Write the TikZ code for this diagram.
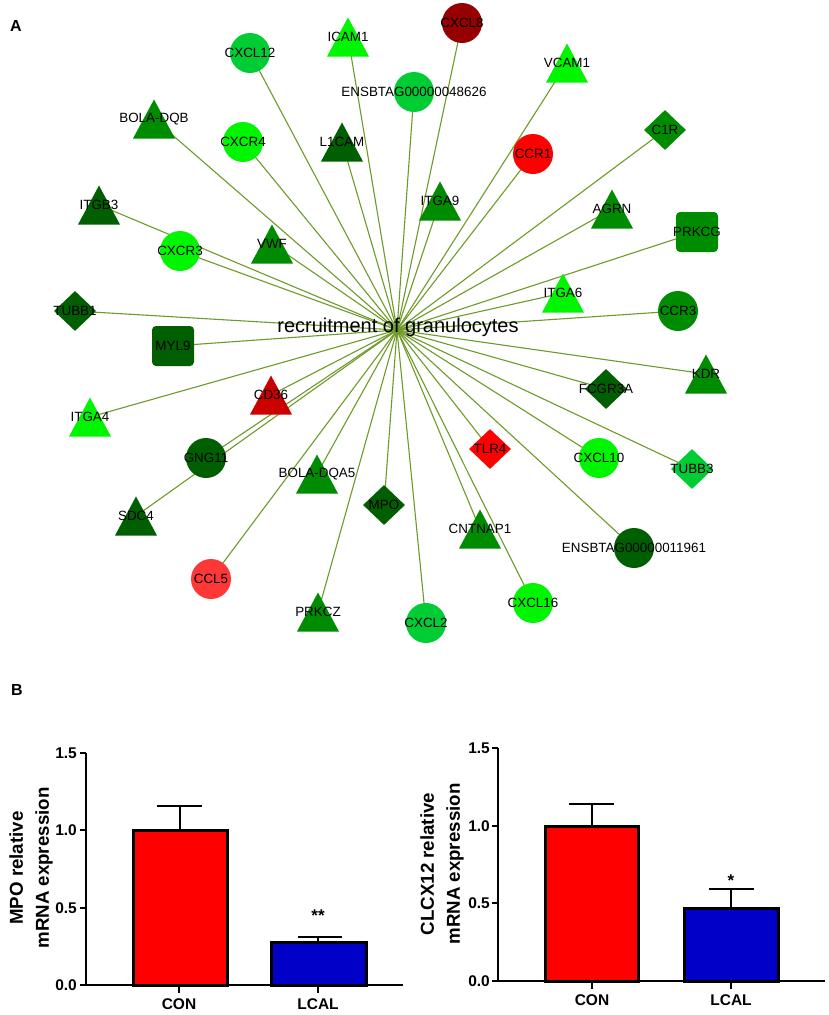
\documentclass[tikz,border=0pt]{standalone}
\usepackage{fontspec}
\setmainfont{Liberation Sans}
\usetikzlibrary{shapes.geometric,backgrounds}
\definecolor{gBright}{RGB}{0,245,0}
\definecolor{gMed}{RGB}{0,204,51}
\definecolor{gMid}{RGB}{0,140,0}
\definecolor{gDark}{RGB}{0,95,0}
\definecolor{rDark}{RGB}{150,0,0}
\definecolor{rRed}{RGB}{255,0,0}
\definecolor{rCD}{RGB}{205,0,0}
\definecolor{rLight}{RGB}{255,55,55}
\definecolor{edgec}{RGB}{110,155,40}
\definecolor{barred}{RGB}{255,0,0}
\definecolor{barblue}{RGB}{0,0,200}
\tikzset{
  lbl/.style={inner sep=0pt, font=\fontsize{13.4}{15}\selectfont, text=black},
  circ/.style={circle, inner sep=0pt, minimum size=40pt},
  dia/.style={diamond, inner sep=0pt, minimum width=42pt, minimum height=40pt},
  sqr/.style={rectangle, rounded corners=4pt, inner sep=0pt, minimum width=42pt, minimum height=40pt},
  edge/.style={draw=edgec, line width=1.1pt},
  ticklab/.style={inner sep=0pt, anchor=east, font=\bfseries\fontsize{15.5}{18}\selectfont},
  xlab/.style={inner sep=0pt, font=\bfseries\fontsize{15.5}{18}\selectfont},
  ylab/.style={inner sep=0pt, rotate=90, align=center, font=\bfseries\fontsize{18.7}{26}\selectfont},
  panel/.style={inner sep=0pt, font=\bfseries\fontsize{16}{18}\selectfont},
  star/.style={inner sep=0pt, font=\bfseries\fontsize{17}{19}\selectfont},
  axis/.style={line width=2.3pt},
  bar/.style={line width=3pt, draw=black},
  errb/.style={line width=2.3pt}
}
\newcommand{\gcirc}[5]{\node[circ,fill=#4] (#1) at (#2,#3) {}; \node[lbl] (#1-l) at (#1.center) {#5};}
\newcommand{\gdia}[5]{\node[dia,fill=#4] (#1) at (#2,#3) {}; \node[lbl] (#1-l) at (#1.center) {#5};}
\newcommand{\gsqr}[5]{\node[sqr,fill=#4] (#1) at (#2,#3) {}; \node[lbl] (#1-l) at (#1.center) {#5};}
\newcommand{\gtri}[5]{\fill[#4] ({#2-21},{#3+19.5}) -- (#2,{#3-19.5}) -- ({#2+21},{#3+19.5}) -- cycle; \node[lbl] (#1) at (#2,#3) {#5};}
\begin{document}
\begin{tikzpicture}[x=1pt,y=-1pt]
\useasboundingbox (0,0) rectangle (829,1015);
\begin{scope}[on background layer]
\fill[white] (0,0) rectangle (829,1015);
\end{scope}

\node[panel] (pA) at (16,26) {A};
\node[panel] (pB) at (17,690) {B};

\coordinate (hub) at (397,330);

% circles
\gcirc{cxcl12}{250}{53}{gMed}{CXCL12}
\gcirc{ensa}{414}{92}{gMed}{ENSBTAG00000048626}
\gcirc{cxcr4}{243}{142}{gBright}{CXCR4}
\gcirc{cxcl8}{462}{23}{rDark}{CXCL8}
\gcirc{ccr1}{533}{154}{rRed}{CCR1}
\gcirc{ccr3}{678}{311}{gMid}{CCR3}
\gcirc{cxcr3}{180}{251}{gBright}{CXCR3}
\gcirc{gng11}{206}{458}{gDark}{GNG11}
\gcirc{ccl5}{211}{579}{rLight}{CCL5}
\gcirc{cxcl2}{426}{623}{gMed}{CXCL2}
\gcirc{cxcl10}{599}{458}{gBright}{CXCL10}
\gcirc{ensb}{634}{548}{gDark}{ENSBTAG00000011961}
\gcirc{cxcl16}{533}{603}{gBright}{CXCL16}

% triangles
\gtri{icam1}{348}{37}{gBright}{ICAM1}
\gtri{boladqb}{154}{119}{gMid}{BOLA-DQB}
\gtri{l1cam}{342}{142}{gDark}{L1CAM}
\gtri{itgb3}{99}{205}{gDark}{ITGB3}
\gtri{vcam1}{567}{63}{gBright}{VCAM1}
\gtri{itga9}{440}{201}{gMid}{ITGA9}
\gtri{agrn}{612}{209}{gMid}{AGRN}
\gtri{itga6}{563}{293}{gBright}{ITGA6}
\gtri{kdr}{706}{374}{gMid}{KDR}
\gtri{vwf}{272}{244}{gMid}{VWF}
\gtri{cd36}{271}{395}{rCD}{CD36}
\gtri{itga4}{90}{417}{gBright}{ITGA4}
\gtri{boladqa}{317}{474}{gMid}{BOLA-DQA5}
\gtri{sdc4}{136}{516}{gDark}{SDC4}
\gtri{prkcz}{318}{612}{gMid}{PRKCZ}
\gtri{cntnap1}{480}{529}{gMid}{CNTNAP1}

% diamonds
\gdia{c1r}{665}{130}{gMid}{C1R}
\gdia{tubb1}{75}{311}{gDark}{TUBB1}
\gdia{fcgr3a}{606}{389}{gDark}{FCGR3A}
\gdia{mpo}{384}{505}{gDark}{MPO}
\gdia{tlr4}{490}{449}{rRed}{TLR4}
\gdia{tubb3}{692}{469}{gMed}{TUBB3}

% rounded squares
\gsqr{prkcg}{697}{232}{gMid}{PRKCG}
\gsqr{myl9}{173}{346}{gDark}{MYL9}

\begin{scope}[on background layer]
\foreach \n in {cxcl12,ensa,cxcr4,cxcl8,ccr1,ccr3,cxcr3,gng11,ccl5,cxcl2,cxcl10,ensb,cxcl16,
  icam1,boladqb,l1cam,itgb3,vcam1,itga9,agrn,itga6,kdr,vwf,cd36,itga4,boladqa,sdc4,prkcz,cntnap1,
  c1r,tubb1,fcgr3a,mpo,tlr4,tubb3,prkcg,myl9}
  \draw[edge] (hub) -- (\n.center);
\end{scope}

\node[inner sep=0pt, font=\fontsize{20}{24}\selectfont] (hubtxt) at (398,327) {recruitment of granulocytes};

% ---------- left bar chart ----------
\fill[barred] (133,985) rectangle (227,830);
\draw[bar] (133,985) rectangle (227,830);
\fill[barblue] (271,985) rectangle (366,942);
\draw[bar] (271,985) rectangle (366,942);
\draw[errb] (180,830) -- (180,806) (157,806) -- (202,806);
\draw[errb] (318,942) -- (318,937) (298,937) -- (342,937);
\draw[axis] (86,753) -- (86,985) -- (403,985);
\foreach \yy in {753,830,908,985} \draw[axis] (80,\yy) -- (86,\yy);
\draw[axis] (179,985) -- (179,993) (318,985) -- (318,993);
\node[ticklab] (l15) at (77,753) {1.5};
\node[ticklab] (l10) at (77,830) {1.0};
\node[ticklab] (l05) at (77,908) {0.5};
\node[ticklab] (l00) at (77,985) {0.0};
\node[xlab] (lcon) at (179,1004) {CON};
\node[xlab] (llcal) at (318,1004) {LCAL};
\node[star] (lstar) at (318,916) {**};
\node[ylab] (lylab) at (31,868) {MPO relative\\mRNA expression};

% ---------- right bar chart ----------
\fill[barred] (545,981) rectangle (638,826);
\draw[bar] (545,981) rectangle (638,826);
\fill[barblue] (684,981) rectangle (778,908);
\draw[bar] (684,981) rectangle (778,908);
\draw[errb] (592,826) -- (592,804) (569,804) -- (614,804);
\draw[errb] (731,908) -- (731,889) (709,889) -- (754,889);
\draw[axis] (498,748) -- (498,981) -- (825,981);
\foreach \yy in {748,826,903,981} \draw[axis] (492,\yy) -- (498,\yy);
\draw[axis] (592,981) -- (592,989) (731,981) -- (731,989);
\node[ticklab] (r15) at (490,748) {1.5};
\node[ticklab] (r10) at (490,826) {1.0};
\node[ticklab] (r05) at (490,903) {0.5};
\node[ticklab] (r00) at (490,981) {0.0};
\node[xlab] (rcon) at (592,1000) {CON};
\node[xlab] (rlcal) at (731,1000) {LCAL};
\node[star] (rstar) at (731,881) {*};
\node[ylab] (rylab) at (442,864) {CLCX12 relative\\mRNA expression};
\end{tikzpicture}
\end{document}
